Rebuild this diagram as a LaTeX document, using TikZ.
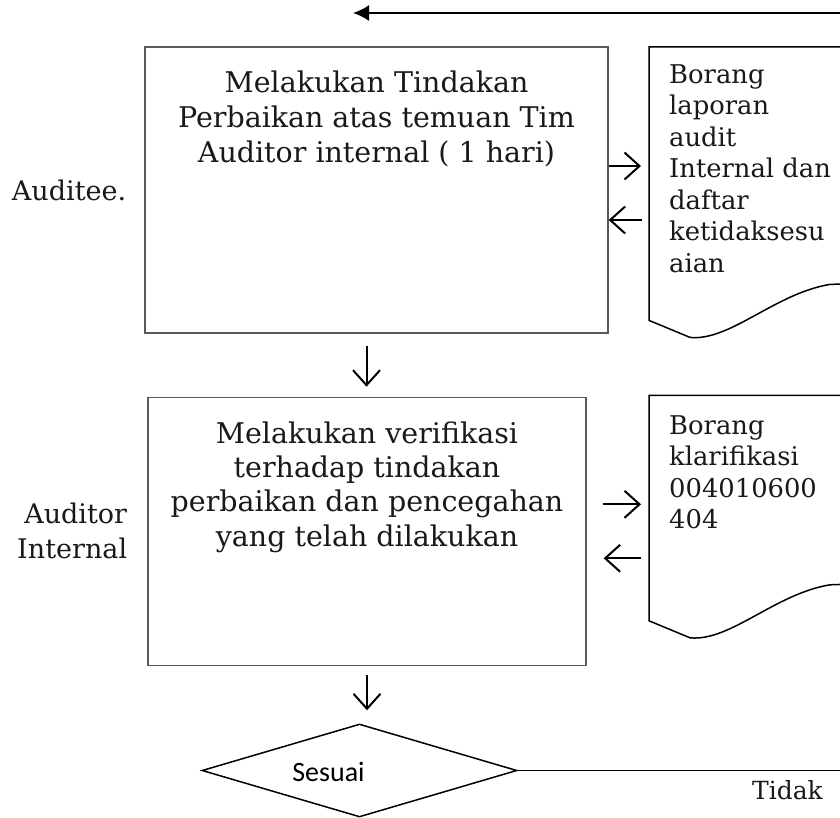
\documentclass[tikz,border=0pt]{standalone}
\usepackage{fontspec}
\setmainfont{DejaVu Serif}
\newfontfamily\calibrifont{Carlito}
\usepackage{tikz}
\usetikzlibrary{arrows.meta}
\usetikzlibrary{positioning}
\usetikzlibrary{shapes.geometric}
\tikzset{
    block/.style={
           rectangle,
           draw=black!65, line width=1.3pt,
           inner sep=0pt,
           },
     docbox/.style={
           rectangle,
           %draw=black,
           minimum width=211pt,
           inner sep=0pt,
           },
     frameless/.style={
           inner sep=0pt,
           text=black!90,
           font=\fontsize{27}{35}\selectfont,
           align=center,
           },
     doctext/.style={
           inner sep=0pt,
           text=black!90,
           font=\fontsize{25.8}{31.5}\selectfont,
           align=left,
           },
     decision/.style={
           diamond,
           draw=black, line width=1.5pt,
           minimum width=315pt,
           minimum height=93pt,
           inner sep=0pt,
           },
     docline/.style={draw=black, line width=1.5pt},
     barb/.style={-{Straight Barb[length=15pt,width=27pt]}, line width=2pt},
}

\begin{document}
\begin{tikzpicture}[x=1pt,y=1pt]
	\clip (0,0) rectangle (840,-818);

	%boxes
	\node[block, minimum width=463pt, minimum height=286pt] (box1) at (376.5,-190) {};
	\node[frameless, font=\fontsize{28.5}{35}\selectfont, below=24pt of box1.north] (box1text) {Melakukan Tindakan\\
										Perbaikan atas temuan Tim\\
										Auditor internal ( 1 hari)};
	\node[block, minimum width=438pt, minimum height=268pt, below=63pt of box1, xshift=-9.5pt] (box2) {};
	\node[frameless, font=\fontsize{28.5}{34.2}\selectfont, below=25pt of box2.north] (box2text) {Melakukan verifikasi\\
										terhadap tindakan\\
										perbaikan dan pencegahan\\
										yang telah dilakukan};

	\node[frameless, left=18pt of box1] (auditee) {Auditee.};
	\node[frameless, align=right, left=20pt of box2] (auditor) {Auditor\\ Internal};

	%documents
	\node[docbox, minimum height=273pt, anchor=north west] (doc1) at (649,-47) {};
	\node[docbox, minimum height=225pt, below right=75pt and 0pt of doc1.south west] (doc2) {};
	\node[doctext, below right=17pt and 20pt of doc1.north west] (doc1text) {Borang\\ laporan\\ audit\\
										Internal dan\\ daftar\\ ketidaksesu\\ aian};
	\node[doctext, below right=20pt and 20pt of doc2.north west] (doc2text) {Borang\\ klarifikasi\\
										004010600\\ 404};
	\draw[docline] (doc1.north east) -- (doc1.north west) -- (doc1.south west) -- ++(41,-17)
		.. controls +(40,-4) and +(-55,-9) .. ++(140,53) -- ++(30,1);
	\draw[docline] (doc2.north east) -- (doc2.north west) -- (doc2.south west) -- ++(41,-17)
		.. controls +(40,-4) and +(-55,-9) .. ++(140,53) -- ++(30,1);

	%decision
	\node[decision] (decide) at (359.5,-770.5) {};
	\node[font=\calibrifont\fontsize{28}{34}\selectfont, inner sep=0pt, xshift=-31pt, yshift=-1.5pt] (sesuai) at (decide.center) {Sesuai};

	\coordinate (topright) at (840,-13);
	\coordinate (topleft) at (353,-13);
	\coordinate (tidakend) at (840,-771.5);
	\node[frameless, font=\fontsize{25}{30}\selectfont, below left=9pt and 17pt of tidakend] (tidak) {Tidak};

	%EDGES
	\draw[-{Latex[length=16pt,width=16pt]}, line width=2pt] (topright) -- (topleft);

	\draw[barb, shorten >=8pt] ([yshift=24pt]box1.east) -- ([yshift=24pt]box1.east -| doc1.west);
	\draw[barb, shorten <=7pt] ([yshift=-30pt]box1.east -| doc1.west) -- ([yshift=-30pt]box1.east);
	\draw[barb, shorten <=16pt, shorten >=8pt] ([yshift=27pt]box2.east) -- ([yshift=27pt]box2.east -| doc2.west);
	\draw[barb, shorten <=8pt, shorten >=17pt] ([yshift=-27pt]box2.east -| doc2.west) -- ([yshift=-27pt]box2.east);

	\draw[barb, shorten <=12pt, shorten >=10pt] ([xshift=-10pt]box1.south) -- ([xshift=-10pt]box1.south |- box2.north);
	\draw[barb, shorten <=9pt, shorten >=13pt] (box2.south) -- (box2.south |- decide.north);

	\draw[line width=1.5pt] (decide.east) -- (decide.east -| tidakend);

\end{tikzpicture}
\end{document}
